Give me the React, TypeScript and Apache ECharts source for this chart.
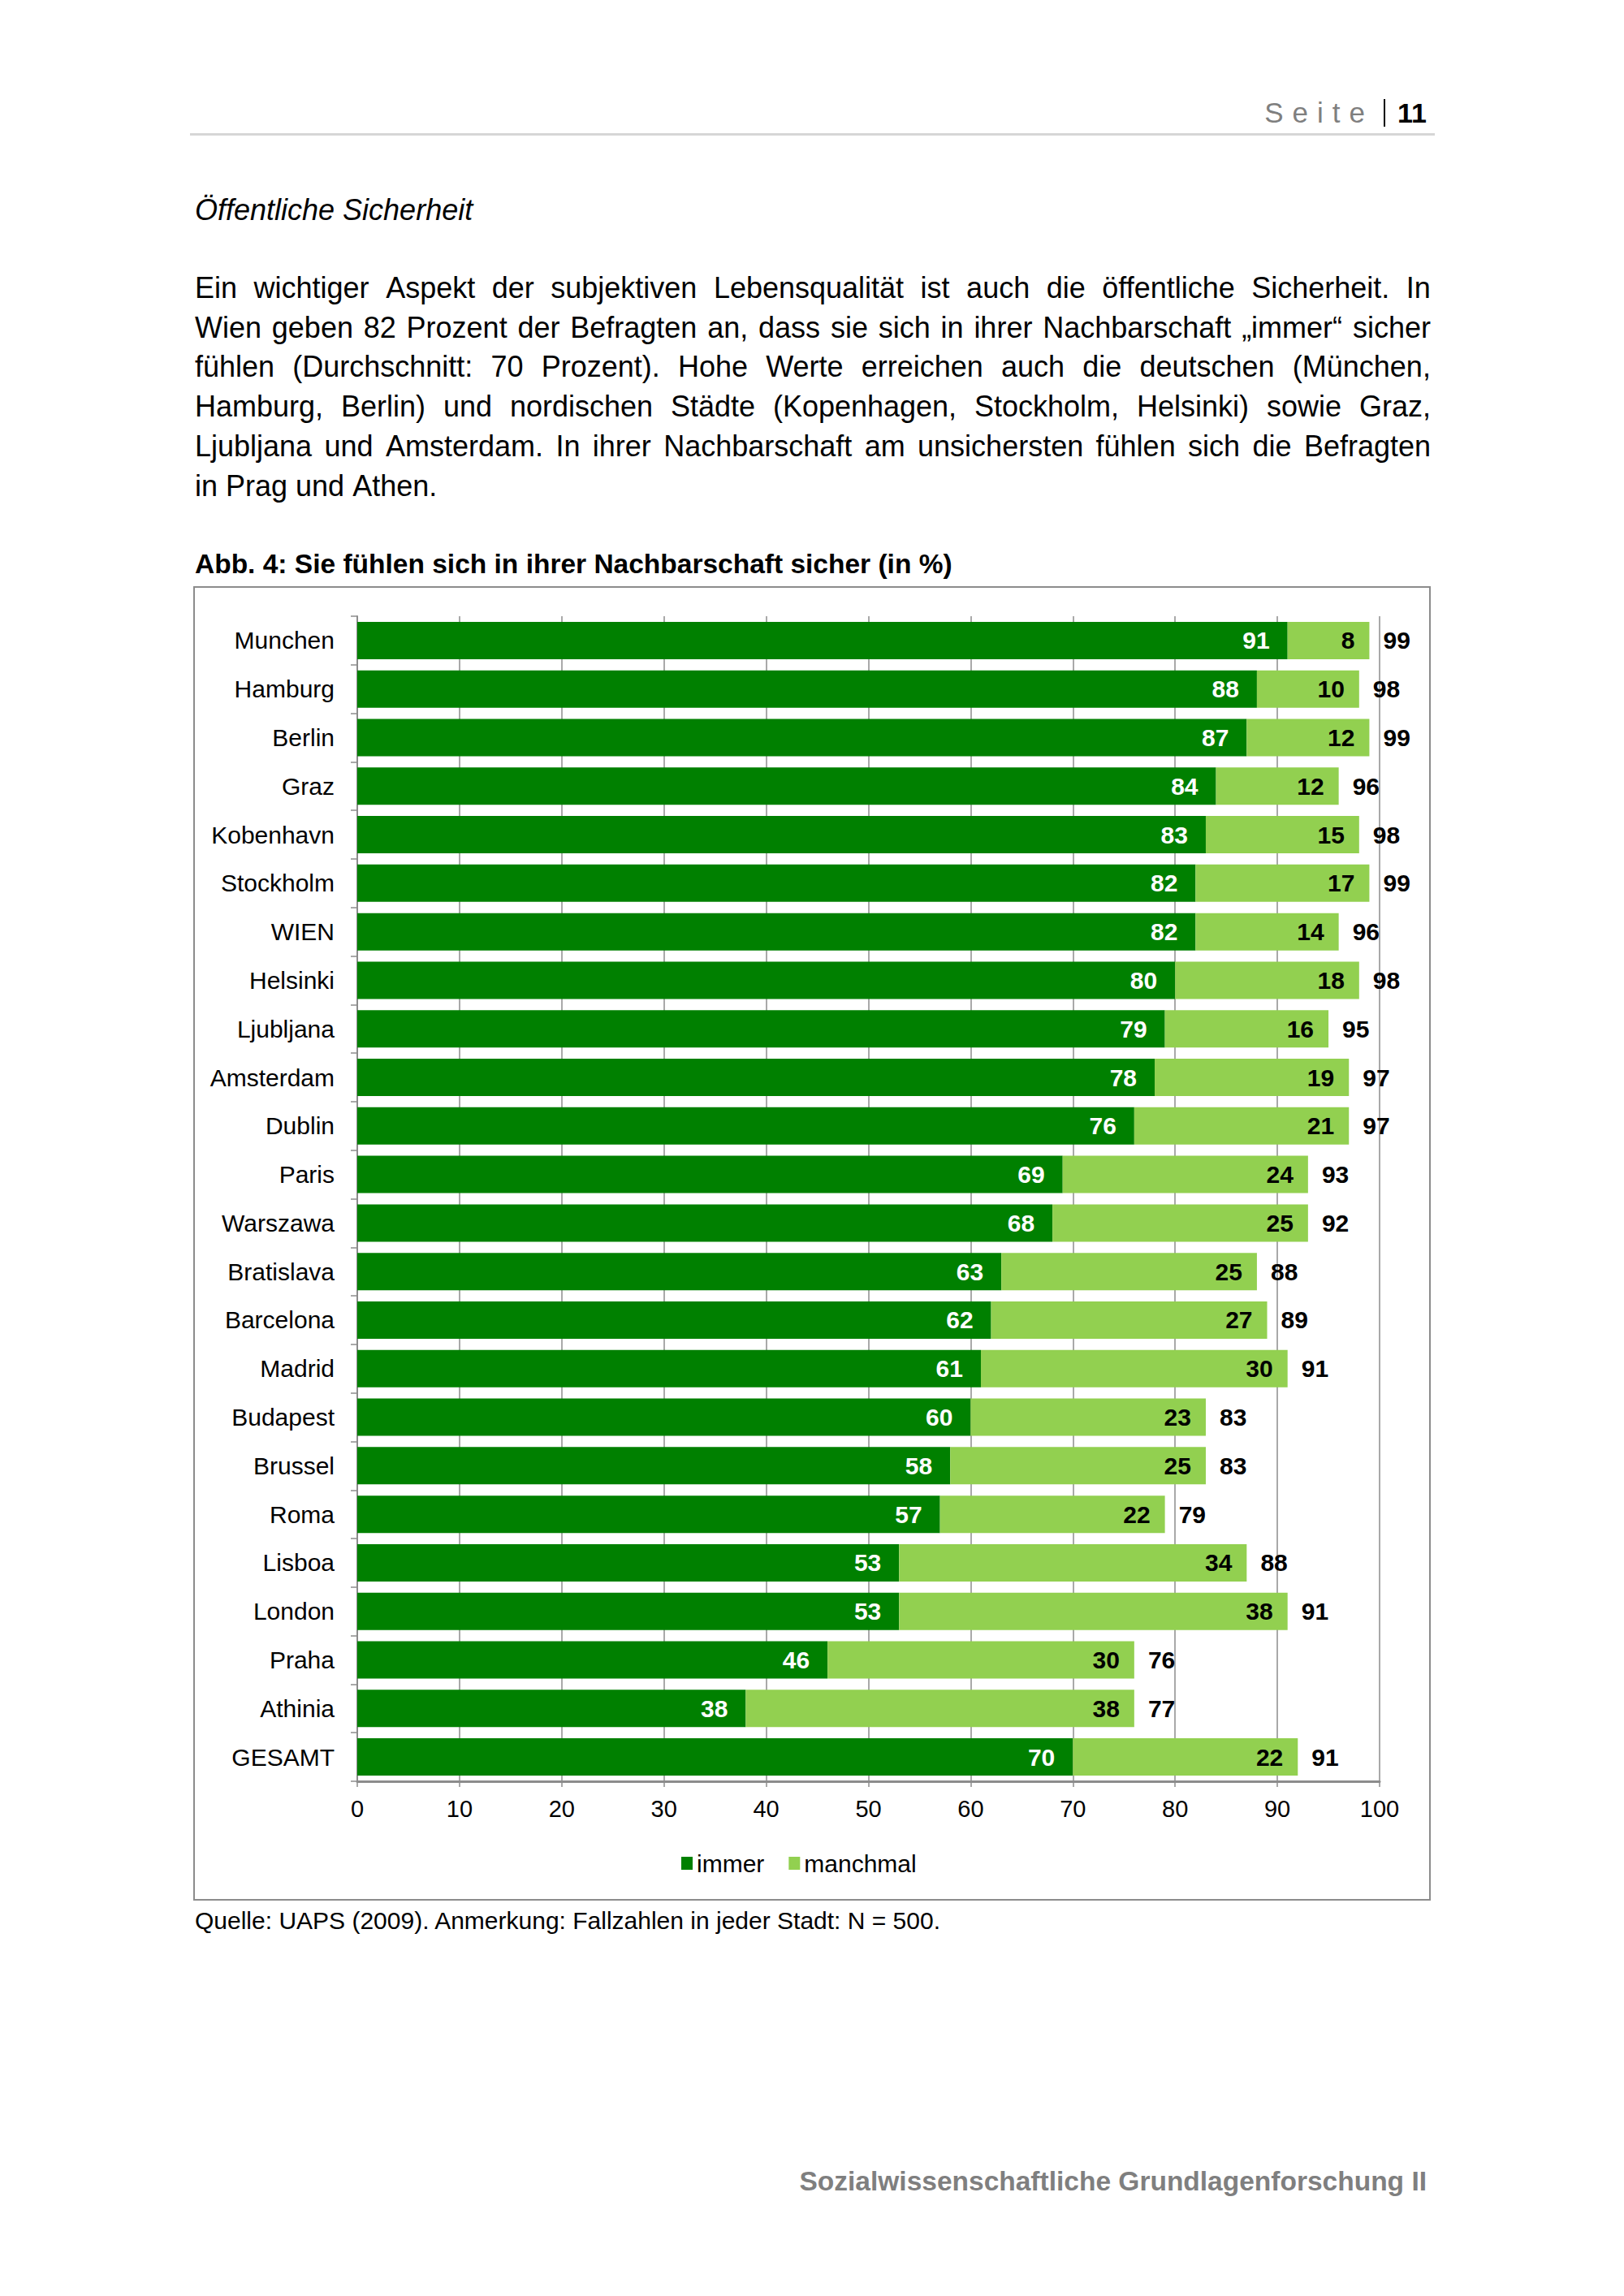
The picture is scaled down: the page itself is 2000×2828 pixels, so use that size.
import React, { useEffect, useRef } from "react";
import * as echarts from "echarts";

const FONT = "'Liberation Sans', Arial, Helvetica, sans-serif";

const categories = [
  "Munchen", "Hamburg", "Berlin", "Graz", "Kobenhavn", "Stockholm", "WIEN", "Helsinki",
  "Ljubljana", "Amsterdam", "Dublin", "Paris", "Warszawa", "Bratislava", "Barcelona", "Madrid",
  "Budapest", "Brussel", "Roma", "Lisboa", "London", "Praha", "Athinia", "GESAMT",
];
const immer = [91, 88, 87, 84, 83, 82, 82, 80, 79, 78, 76, 69, 68, 63, 62, 61, 60, 58, 57, 53, 53, 46, 38, 70];
const manchmal = [8, 10, 12, 12, 15, 17, 14, 18, 16, 19, 21, 24, 25, 25, 27, 30, 23, 25, 22, 34, 38, 30, 38, 22];
const totals = [99, 98, 99, 96, 98, 99, 96, 98, 95, 97, 97, 93, 92, 88, 89, 91, 83, 83, 79, 88, 91, 76, 77, 91];
const seriesNames = ["immer", "manchmal"];

const paragraphLines = [
  "Ein wichtiger Aspekt der subjektiven Lebensqualität ist auch die öffentliche Sicherheit. In",
  "Wien geben 82 Prozent der Befragten an, dass sie sich in ihrer Nachbarschaft „immer“ sicher",
  "fühlen (Durchschnitt: 70 Prozent). Hohe Werte erreichen auch die deutschen (München,",
  "Hamburg, Berlin) und nordischen Städte (Kopenhagen, Stockholm, Helsinki) sowie Graz,",
  "Ljubljana und Amsterdam. In ihrer Nachbarschaft am unsichersten fühlen sich die Befragten",
  "in Prag und Athen.",
];

const DARK = "#008000";
const LIGHT = "#92D050";
const GRAY = "#8c8c8c";

function Chart() {
  const ref = useRef<HTMLDivElement>(null);
  useEffect(() => {
    if (!ref.current) return;
    const chart = echarts.init(ref.current, undefined, { renderer: "svg" });
    const option: any = {
      animation: false,
      textStyle: { fontFamily: FONT },
      grid: { left: 202, right: 63, top: 37, bottom: 147, outerBoundsMode: "none" },
      xAxis: {
        type: "value",
        min: 0,
        max: 100,
        interval: 10,
        axisLine: { show: true, lineStyle: { color: GRAY, width: 3 } },
        axisTick: { show: true, length: 7, lineStyle: { color: GRAY, width: 1.5 } },
        axisLabel: { color: "#000", fontSize: 29, margin: 19, fontFamily: FONT },
        splitLine: { show: true, lineStyle: { color: GRAY, width: 1.5 } },
      },
      yAxis: {
        type: "category",
        data: categories,
        inverse: true,
        axisLine: { show: true, lineStyle: { color: GRAY, width: 2 } },
        axisTick: { show: true, length: 8, lineStyle: { color: GRAY, width: 1.5 } },
        axisLabel: { color: "#000", fontSize: 30, margin: 28, fontFamily: FONT },
        splitLine: { show: false },
      },
      legend: {
        data: seriesNames,
        left: 596,
        top: 1553,
        icon: "rect",
        itemWidth: 14,
        itemHeight: 16,
        itemGap: 30,
        textStyle: { fontSize: 30, color: "#000", fontFamily: FONT },
      },
      series: [
        {
          name: seriesNames[0],
          type: "bar",
          stack: "total",
          data: immer,
          barCategoryGap: "23%",
          itemStyle: { color: DARK },
          label: {
            show: true,
            position: "insideRight",
            distance: 22,
            color: "#fff",
            fontWeight: "bold",
            fontSize: 30,
            fontFamily: FONT,
          },
        },
        {
          name: seriesNames[1],
          type: "bar",
          stack: "total",
          data: manchmal,
          barCategoryGap: "23%",
          itemStyle: { color: LIGHT },
          label: {
            show: true,
            position: "insideRight",
            distance: 18,
            color: "#000",
            fontWeight: "bold",
            fontSize: 30,
            fontFamily: FONT,
          },
        },
        {
          name: "total",
          type: "scatter",
          silent: true,
          z: 5,
          symbolSize: 0.1,
          itemStyle: { color: "#ffffff", opacity: 1 },
          data: immer.map((v, i) => [v + manchmal[i], i]),
          label: {
            show: true,
            position: "right",
            distance: 17,
            formatter: (p: any) => String(totals[p.dataIndex]),
            color: "#000000",
            opacity: 1,
            fontWeight: "bold",
            fontSize: 30,
            fontFamily: FONT,
          },
        },
      ],
    };
    chart.setOption(option);
    return () => chart.dispose();
  }, []);
  return (
    <div
      ref={ref}
      style={{ position: "absolute", left: 238, top: 722, width: 1524, height: 1619 }}
    />
  );
}

export default function App() {
  const base: React.CSSProperties = { position: "absolute", fontFamily: FONT, color: "#000", margin: 0 };
  return (
    <div style={{ position: "absolute", left: 0, top: 0, width: 2000, height: 2828, background: "#fff", overflow: "hidden" }}>
      {/* Header */}
      <div style={{ ...base, right: 243, top: 117, height: 44, display: "flex", alignItems: "center" }}>
        <span style={{ fontSize: 35, color: "#7f7f7f", letterSpacing: 11, lineHeight: "44px" }}>Seite</span>
        <span style={{ display: "inline-block", width: 2, height: 34, background: "#000", marginLeft: 12 }} />
        <span style={{ fontSize: 34, fontWeight: "bold", marginLeft: 15, lineHeight: "44px" }}>11</span>
      </div>
      <div style={{ position: "absolute", left: 234, top: 164, width: 1533, height: 3, background: "#d6d6d6" }} />

      {/* Section heading */}
      <div style={{ ...base, left: 240, top: 238, fontSize: 36, fontStyle: "italic", lineHeight: "42px" }}>
        Öffentliche Sicherheit
      </div>

      {/* Paragraph */}
      {paragraphLines.map((line, i) => {
        const last = i === paragraphLines.length - 1;
        const words = line.split(" ");
        return (
          <div
            key={i}
            style={{
              ...base,
              left: 240,
              top: 331 + i * 48.7,
              width: last ? undefined : 1522,
              fontSize: 36,
              lineHeight: "48px",
              whiteSpace: "nowrap",
              display: "flex",
              justifyContent: last ? "flex-start" : "space-between",
              gap: last ? 10 : 0,
            }}
          >
            {words.map((w, j) => (
              <span key={j}>{w}</span>
            ))}
          </div>
        );
      })}

      {/* Chart title */}
      <div style={{ ...base, left: 240, top: 675, fontSize: 33.5, fontWeight: "bold", lineHeight: "40px", whiteSpace: "nowrap" }}>
        Abb. 4: Sie fühlen sich in ihrer Nachbarschaft sicher (in %)
      </div>

      {/* Chart box */}
      <div
        style={{
          position: "absolute",
          left: 238,
          top: 722,
          width: 1524,
          height: 1619,
          border: `2px solid ${GRAY}`,
          boxSizing: "border-box",
        }}
      />
      <Chart />

      {/* Source */}
      <div style={{ ...base, left: 240, top: 2348, fontSize: 30, lineHeight: "36px", whiteSpace: "nowrap" }}>
        Quelle: UAPS (2009). Anmerkung: Fallzahlen in jeder Stadt: N = 500.
      </div>

      {/* Footer */}
      <div
        style={{
          ...base,
          right: 243,
          top: 2667,
          fontSize: 33.5,
          fontWeight: "bold",
          color: "#7f7f7f",
          lineHeight: "40px",
          whiteSpace: "nowrap",
        }}
      >
        Sozialwissenschaftliche Grundlagenforschung II
      </div>
    </div>
  );
}
